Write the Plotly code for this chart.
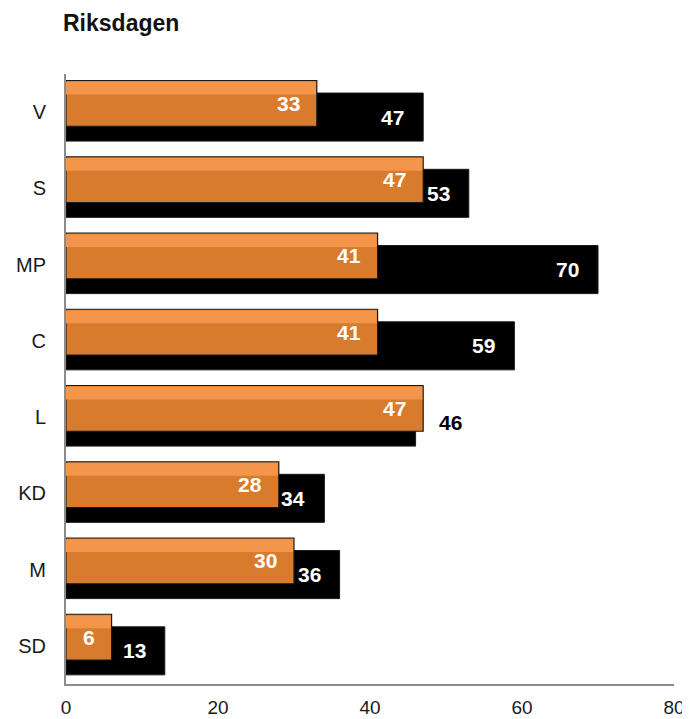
import plotly.graph_objects as go

categories = ["V", "S", "MP", "C", "L", "KD", "M", "SD"]
orange_values = [33, 47, 41, 41, 47, 28, 30, 6]
black_values = [47, 53, 70, 59, 46, 34, 36, 13]
x_ticks = [0, 20, 40, 60, 80]
title_text = "Riksdagen"

FONT = "Liberation Sans, Arial, Helvetica, sans-serif"
ORANGE = "#D97B2D"
ORANGE_LIGHT = "#F3964B"
pos = list(range(len(categories)))

O_OFF, O_W = -0.415, 0.60
B_OFF, B_W = -0.25, 0.63
S_OFF, S_W = -0.40, 0.17

W, H = 682, 711  # page body has an 8px margin

fig = go.Figure()
fig.add_trace(go.Bar(
    y=pos, x=black_values, orientation="h", offset=B_OFF, width=B_W,
    marker=dict(color="#000000", line=dict(color="#1a1a1a", width=1)),
    hoverinfo="skip", showlegend=False))
fig.add_trace(go.Bar(
    y=pos, x=orange_values, orientation="h", offset=O_OFF, width=O_W,
    marker=dict(color=ORANGE, line=dict(color="#1a1a1a", width=1.2)),
    hoverinfo="skip", showlegend=False))
fig.add_trace(go.Bar(
    y=pos, x=[v - 0.12 for v in orange_values], orientation="h", offset=S_OFF, width=S_W,
    marker=dict(color=ORANGE_LIGHT, line=dict(width=0)),
    hoverinfo="skip", showlegend=False))

annotations = []
for i, (o, b) in enumerate(zip(orange_values, black_values)):
    annotations.append(dict(
        x=o, y=i + O_OFF + O_W / 2, xref="x", yref="y", text=f"<b>{o}</b>",
        showarrow=False, xanchor="right", yanchor="middle", xshift=-15,
        font=dict(family=FONT, size=21, color="white")))
    if b >= o:
        annotations.append(dict(
            x=b, y=i + B_OFF + B_W / 2, xref="x", yref="y", text=f"<b>{b}</b>",
            showarrow=False, xanchor="right", yanchor="middle", xshift=-17,
            font=dict(family=FONT, size=21, color="white")))
    else:
        annotations.append(dict(
            x=b, y=i + B_OFF + B_W / 2, xref="x", yref="y", text=f"<b>{b}</b>",
            showarrow=False, xanchor="left", yanchor="middle", xshift=21,
            font=dict(family=FONT, size=21, color="black")))

fig.update_layout(
    width=W, height=H,
    margin=dict(l=58, r=16, t=66, b=35),
    barmode="overlay",
    plot_bgcolor="white", paper_bgcolor="white",
    font=dict(family=FONT, color="#1a1a1a"),
    title=dict(text=f"<b>{title_text}</b>", x=55 / W, xanchor="left",
               xref="container", y=1 - 15 / H, yanchor="middle", yref="container",
               font=dict(family=FONT, size=23, color="#111111")),
    annotations=annotations,
    xaxis=dict(range=[0, 80], tickvals=x_ticks, ticktext=[str(t) for t in x_ticks],
               showgrid=False, zeroline=False, showline=True, linecolor="#8c8c8c",
               linewidth=2, ticks="", ticklabelstandoff=5, automargin=False,
               tickfont=dict(family=FONT, size=19, color="#1a1a1a")),
    yaxis=dict(range=[len(categories) - 0.5, -0.5], tickvals=pos, ticktext=categories,
               showgrid=False, zeroline=False, showline=True, linecolor="#8c8c8c",
               linewidth=2, ticks="", ticklabelstandoff=14, automargin=False,
               tickfont=dict(family=FONT, size=20, color="#1a1a1a")),
)

fig.write_html("out.html")
